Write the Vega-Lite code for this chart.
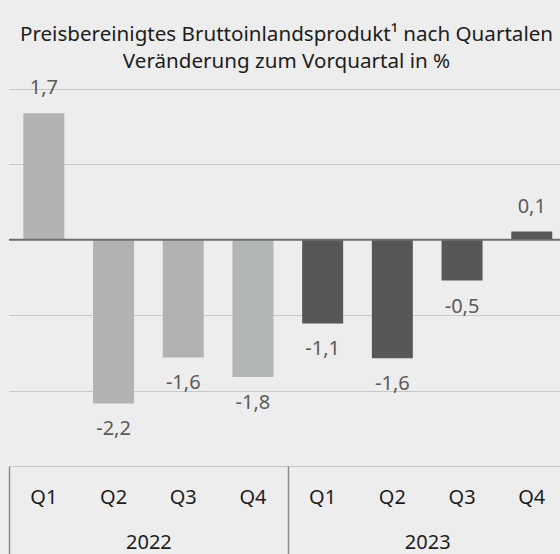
{
  "$schema": "https://vega.github.io/schema/vega-lite/v6.json",
  "width": 551,
  "height": 377,
  "autosize": {"type": "none"},
  "padding": {"left": 9, "top": 89, "right": 0, "bottom": 88},
  "background": "#ededed",
  "config": {
    "view": {"stroke": null},
    "font": "Noto Sans",
    "locale": {"number": {"decimal": ",", "thousands": ".", "grouping": [3], "currency": ["", " €"], "minus": "-"}}
  },
  "title": {
    "text": ["Preisbereinigtes Bruttoinlandsprodukt¹ nach Quartalen", "Veränderung zum Vorquartal in %"],
    "fontSize": 20.6,
    "fontWeight": "normal",
    "color": "#1d1d1b",
    "lineHeight": 27,
    "anchor": "middle",
    "dx": 2,
    "offset": 6
  },
  "data": {
    "values": [
      {"q": "2022-Q1", "v": 1.68},
      {"q": "2022-Q2", "v": -2.17},
      {"q": "2022-Q3", "v": -1.56},
      {"q": "2022-Q4", "v": -1.82},
      {"q": "2023-Q1", "v": -1.11},
      {"q": "2023-Q2", "v": -1.57},
      {"q": "2023-Q3", "v": -0.54},
      {"q": "2023-Q4", "v": 0.11}
    ]
  },
  "resolve": {"axis": {"x": "independent"}},
  "layer": [
    {
      "mark": {"type": "bar"},
      "encoding": {
        "x": {
          "field": "q",
          "type": "nominal",
          "sort": null,
          "scale": {
            "domain": ["2022-Q1", "2022-Q2", "2022-Q3", "2022-Q4", "2023-Q1", "2023-Q2", "2023-Q3", "2023-Q4"],
            "range": [0, 557.6],
            "paddingInner": 0.412,
            "paddingOuter": 0.206
          },
          "axis": {
            "orient": "bottom",
            "title": null,
            "grid": false,
            "domain": false,
            "ticks": false,
            "labelExpr": "datum.value ? substring(datum.value, 5) : ''",
            "labelAngle": 0,
            "labelFontSize": 20,
            "labelColor": "#1d1d1b",
            "labelBaseline": "middle",
            "labelPadding": 31
          }
        },
        "y": {
          "field": "v",
          "type": "quantitative",
          "scale": {"domain": [-3, 2], "nice": false},
          "axis": {
            "values": [2, 1, -1, -2, -3],
            "title": null,
            "grid": true,
            "gridColor": "#c8c8c8",
            "gridWidth": 1.2,
            "domain": false,
            "ticks": false,
            "labels": false
          }
        },
        "color": {
          "field": "q",
          "type": "nominal",
          "sort": null,
          "scale": {"range": ["#b2b2b2", "#b2b2b2", "#b2b2b2", "#b1b5b5", "#575756", "#575756", "#575756", "#575756"]},
          "legend": null
        }
      }
    },
    {
      "data": {"values": [{"z": 0}]},
      "mark": {"type": "rule", "color": "#6e6e6e", "strokeWidth": 2},
      "encoding": {
        "y": {"field": "z", "type": "quantitative"}
      }
    },
    {
      "transform": [{"filter": "datum.v >= 0"}],
      "mark": {"type": "text", "baseline": "middle", "dy": -25, "fontSize": 20, "color": "#5b5b5b"},
      "encoding": {
        "x": {"field": "q", "type": "nominal", "sort": null, "axis": null},
        "y": {"field": "v", "type": "quantitative"},
        "text": {"field": "v", "type": "quantitative", "format": ".1f"}
      }
    },
    {
      "transform": [{"filter": "datum.v < 0"}],
      "mark": {"type": "text", "baseline": "middle", "dy": 26, "fontSize": 20, "color": "#5b5b5b"},
      "encoding": {
        "x": {
          "field": "q",
          "type": "nominal",
          "sort": null,
          "axis": {
            "orient": "bottom",
            "title": null,
            "grid": false,
            "domain": false,
            "ticks": true,
            "tickSize": 88,
            "tickWidth": 1.5,
            "tickOffset": -34.85,
            "tickColor": {"condition": {"test": "datum.value == '2022-Q1' || datum.value == '2023-Q1'", "value": "#8c8c8c"}, "value": "transparent"},
            "labelExpr": "datum.value && substring(datum.value, 5) == 'Q2' ? substring(datum.value, 0, 4) : ''",
            "labelAngle": 0,
            "labelFontSize": 20,
            "labelColor": "#1d1d1b",
            "labelBaseline": "middle",
            "labelPadding": -12,
            "labelOffset": 69.7
          }
        },
        "y": {"field": "v", "type": "quantitative"},
        "text": {"field": "v", "type": "quantitative", "format": ".1f"}
      }
    }
  ]
}
